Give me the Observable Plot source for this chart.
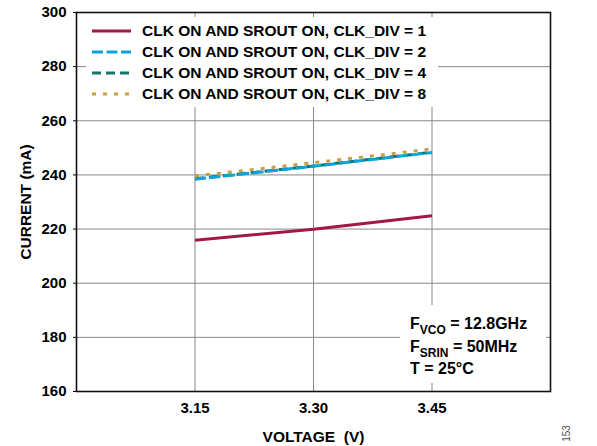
<!DOCTYPE html>
<html>
<head>
<meta charset="utf-8">
<script src="https://cdn.jsdelivr.net/npm/d3@7"></script>
<script src="https://cdn.jsdelivr.net/npm/@observablehq/plot@0.6"></script>
<style>
  html, body { margin: 0; padding: 0; background: #fff; }
  #wrap { position: relative; width: 597px; height: 446px; font-family: "Liberation Sans", Arial, sans-serif; }
  #wrap svg.plot { position: absolute; left: 0; top: 0; }
  .box { position: absolute; background: #fff; font-weight: bold; color: #000; }
  .row { position: absolute; white-space: nowrap; line-height: 16px; }
  .row svg { position: absolute; left: 0; top: 0; }
  sub { font-size: 12px; vertical-align: -5px; line-height: 0; }
</style>
</head>
<body>
<div id="wrap"></div>
<script>
// ---- data ----
const voltage = [3.15, 3.30, 3.45];
const currentDiv1 = [215.9, 219.9, 224.9];
const currentDiv2 = [238.4, 243.2, 248.3];
const currentDiv4 = [238.6, 243.3, 248.4];
const currentDiv8 = [239.6, 244.5, 249.6];
const seriesNames = [
  "CLK ON AND SROUT ON, CLK_DIV = 1",
  "CLK ON AND SROUT ON, CLK_DIV = 2",
  "CLK ON AND SROUT ON, CLK_DIV = 4",
  "CLK ON AND SROUT ON, CLK_DIV = 8"
];
const seriesColors = ["#A3174B", "#0BA3DB", "#13786C", "#C9A040"];
const seriesDash = [null, "11,3.5", "9,5", "4,7"];
const xTicks = [3.15, 3.30, 3.45];
const yTicks = [160, 180, 200, 220, 240, 260, 280, 300];
const noteLines = [
  ["F", "VCO", " = 12.8GHz"],
  ["F", "SRIN", " = 50MHz"],
  ["T = 25°C", "", ""]
];

const allSeries = [currentDiv1, currentDiv2, currentDiv4, currentDiv8];
const rows = [];
allSeries.forEach((vals, s) => vals.forEach((c, i) => rows.push({series: s, v: voltage[i], c})));

const drawOrder = [0, 2, 1, 3];
const lineMarks = drawOrder.map(s => Plot.line(rows.filter(d => d.series === s), {
  x: "v", y: "c", stroke: seriesColors[s], strokeWidth: 3,
  strokeDasharray: seriesDash[s] || undefined, strokeLinecap: "butt"
}));

const chart = Plot.plot({
  width: 597, height: 446,
  marginLeft: 76, marginRight: 47, marginTop: 12, marginBottom: 55,
  style: {fontFamily: "Liberation Sans, Arial, sans-serif", fontSize: "15px", fontWeight: "bold", color: "#000", background: "#fff"},
  x: {domain: [3.0, 3.6]},
  y: {domain: [160, 300]},
  marks: [
    Plot.gridX(xTicks, {stroke: "#888", strokeOpacity: 1, strokeWidth: 1}),
    Plot.gridY(yTicks, {stroke: "#888", strokeOpacity: 1, strokeWidth: 1}),
    Plot.axisX(xTicks, {tickSize: 0, tickPadding: 11, tickFormat: d3.format(".2f"), fontSize: 15, fontWeight: "bold",
      label: "VOLTAGE  (V)", labelAnchor: "center", labelOffset: 50, labelArrow: "none"}),
    Plot.axisY(yTicks, {tickSize: 3, tickPadding: 7, fontSize: 15, fontWeight: "bold",
      label: "CURRENT (mA)", labelAnchor: "center", labelOffset: 57, labelArrow: "none"}),
    ...lineMarks,
    Plot.frame({stroke: "#111", strokeWidth: 1.6})
  ]
});
chart.classList.add("plot");
const wrap = document.getElementById("wrap");
wrap.appendChild(chart);
chart.querySelectorAll("g[aria-label='x-axis label'] text, g[aria-label='y-axis label'] text").forEach(t => t.setAttribute("font-size", "15.5"));

// legend (inside plot area, white background)
const legend = document.createElement("div");
legend.className = "box";
Object.assign(legend.style, {left: "86px", top: "17px", width: "352px", height: "90px", fontSize: "15.5px"});
seriesNames.forEach((name, i) => {
  const r = document.createElement("div");
  r.className = "row";
  r.style.left = "6px";
  r.style.top = (6 + i * 21) + "px";
  r.innerHTML = `<svg width="42" height="16"><line x1="0" x2="39" y1="8" y2="8" stroke="${seriesColors[i]}" stroke-width="3" ${seriesDash[i] ? `stroke-dasharray="${seriesDash[i]}"` : ""}/></svg><span style="position:absolute;left:50px;top:0">${name}</span>`;
  legend.appendChild(r);
});
wrap.appendChild(legend);

// conditions note
const note = document.createElement("div");
note.className = "box";
Object.assign(note.style, {left: "400px", top: "305px", width: "146px", height: "78px", fontSize: "16px"});
noteLines.forEach((l, i) => {
  const r = document.createElement("div");
  r.className = "row";
  r.style.left = "10px";
  r.style.top = (11 + i * 22.5) + "px";
  r.innerHTML = l[0] + (l[1] ? `<sub>${l[1]}</sub>` : "") + l[2];
  note.appendChild(r);
});
wrap.appendChild(note);

// figure number
const fig = document.createElement("div");
Object.assign(fig.style, {position: "absolute", left: "558px", top: "428px", fontSize: "10px", color: "#555",
  transform: "rotate(-90deg)", transformOrigin: "center", fontFamily: "Liberation Sans, Arial, sans-serif"});
fig.textContent = "153";
wrap.appendChild(fig);
</script>
</body>
</html>
